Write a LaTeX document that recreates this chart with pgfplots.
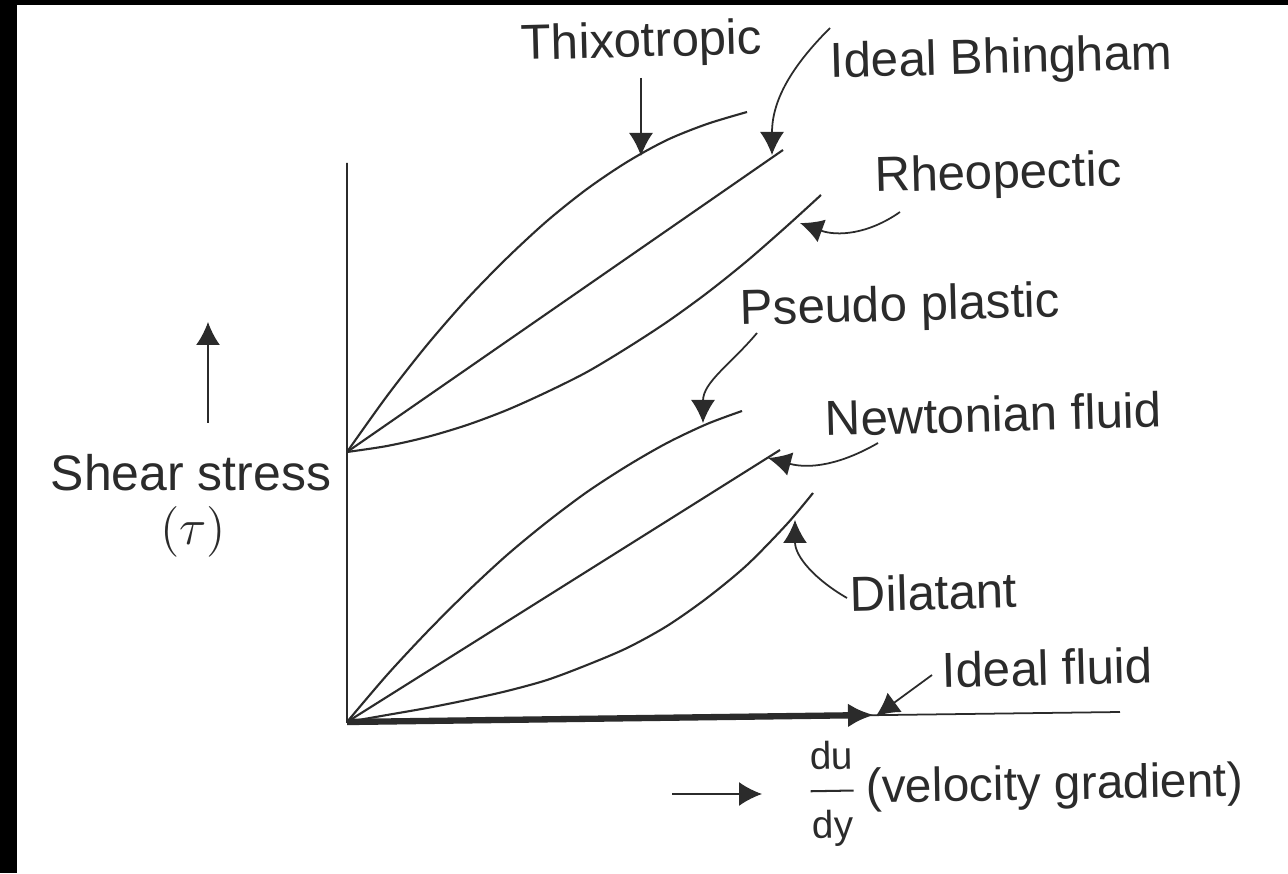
\documentclass[border=0pt]{standalone}
\usepackage{amsmath}
\usepackage{fontspec}
\setmainfont{Liberation Sans}
\usepackage{pgfplots}
\pgfplotsset{compat=1.18}
\usetikzlibrary{arrows.meta}
\definecolor{ink}{HTML}{2B2B2B}

\newcommand{\lab}[1]{\fontsize{14}{15}\selectfont #1}

\begin{document}
\begin{tikzpicture}
\begin{axis}[
  width=12.88cm, height=8.73cm,
  scale only axis,
  xmin=-347, xmax=941,
  ymin=-151, ymax=722,
  hide axis,
  clip=false,
]
% page and scan border
\fill[white] (-347,-151) rectangle (941,722);
\fill[black] (-347,-151) rectangle (-330,722);
\fill[black] (-347,717) rectangle (941,722);

% axes
\draw[ink, line width=0.5pt] (0,559) -- (0,0) -- (773,10);

% curves
\addplot[ink, line width=0.6pt, smooth] coordinates {(0,270) (40,326) (80,377) (120,423) (160,464) (200,501) (240,533) (280,560) (320,582) (360,598) (400,610)};
\addplot[ink, line width=0.6pt] coordinates {(0,270) (436,572)};
\addplot[ink, line width=0.6pt, smooth] coordinates {(0,270) (40,276) (80,285) (120,297) (160,312) (200,330) (240,350) (280,374) (320,400) (360,429) (400,461) (440,496) (474,527)};
\addplot[ink, line width=0.6pt, smooth] coordinates {(0,0) (40,47) (80,90) (120,130) (160,167) (200,200) (240,230) (280,256) (320,279) (360,298) (395,311)};
\addplot[ink, line width=0.6pt] coordinates {(0,0) (433,272)};
\addplot[ink, line width=0.6pt, smooth] coordinates {(0,0) (40,7) (80,14) (120,22) (160,31) (200,42) (240,57) (280,74) (320,96) (360,124) (400,157) (440,198) (466,229)};
\addplot[ink, line width=1.8pt, -{Latex[length=2.6mm,width=2.4mm]}] coordinates {(0,0) (527,7)};

% labels and pointers
\tikzset{ptr/.style={ink, line width=0.5pt, -{Latex[length=2.3mm,width=2.4mm]}},
         lbl/.style={ink, anchor=base west, inner sep=0pt, rotate=1.5}}
\node[lbl] at (174,662) {\lab{Thixotropic}};
\draw[ptr] (294,644) -- (294,566);

\node[lbl] at (483,644) {\lab{Ideal Bhingham}};
\draw[ptr] (483,694) to[out=225,in=90] (425,567);

\node[lbl] at (528,530) {\lab{Rheopectic}};
\draw[ptr] (553,510) to[out=215,in=-20] (453,499);

\node[lbl] at (393,397) {\lab{Pseudo plastic}};
\draw[ptr] (410,389) to[out=230,in=90] (356,299);

\node[lbl] at (478,286) {\lab{Newtonian fluid}};
\draw[ptr] (531,279) to[out=210,in=-15] (421,264);

\node[lbl] at (503,110) {\lab{Dilatant}};
\draw[ptr] (500,124) to[out=150,in=-90] (448,202);

\node[lbl] at (595,34) {\lab{Ideal fluid}};
\draw[ptr] (585,47) -- (529,6);

% axis titles
\draw[ptr] (325,-72) -- (415,-72);
\node[ink, anchor=base west, inner sep=0pt, rotate=1] at (459,-82)
  {\fontsize{13.6}{15}\selectfont$\dfrac{\mbox{\fontsize{11}{12}\selectfont du}}{\mbox{\fontsize{11}{12}\selectfont dy}}$\,(velocity gradient)};

\draw[ptr] (-139,299) -- (-139,400);
\node[ink, anchor=base, inner sep=0pt] at (-156,231) {\fontsize{14.2}{15}\selectfont Shear stress};
\node[ink] at (-154,190) {\fontsize{14}{15}\selectfont$(\tau)$};
\end{axis}
\end{tikzpicture}
\end{document}
